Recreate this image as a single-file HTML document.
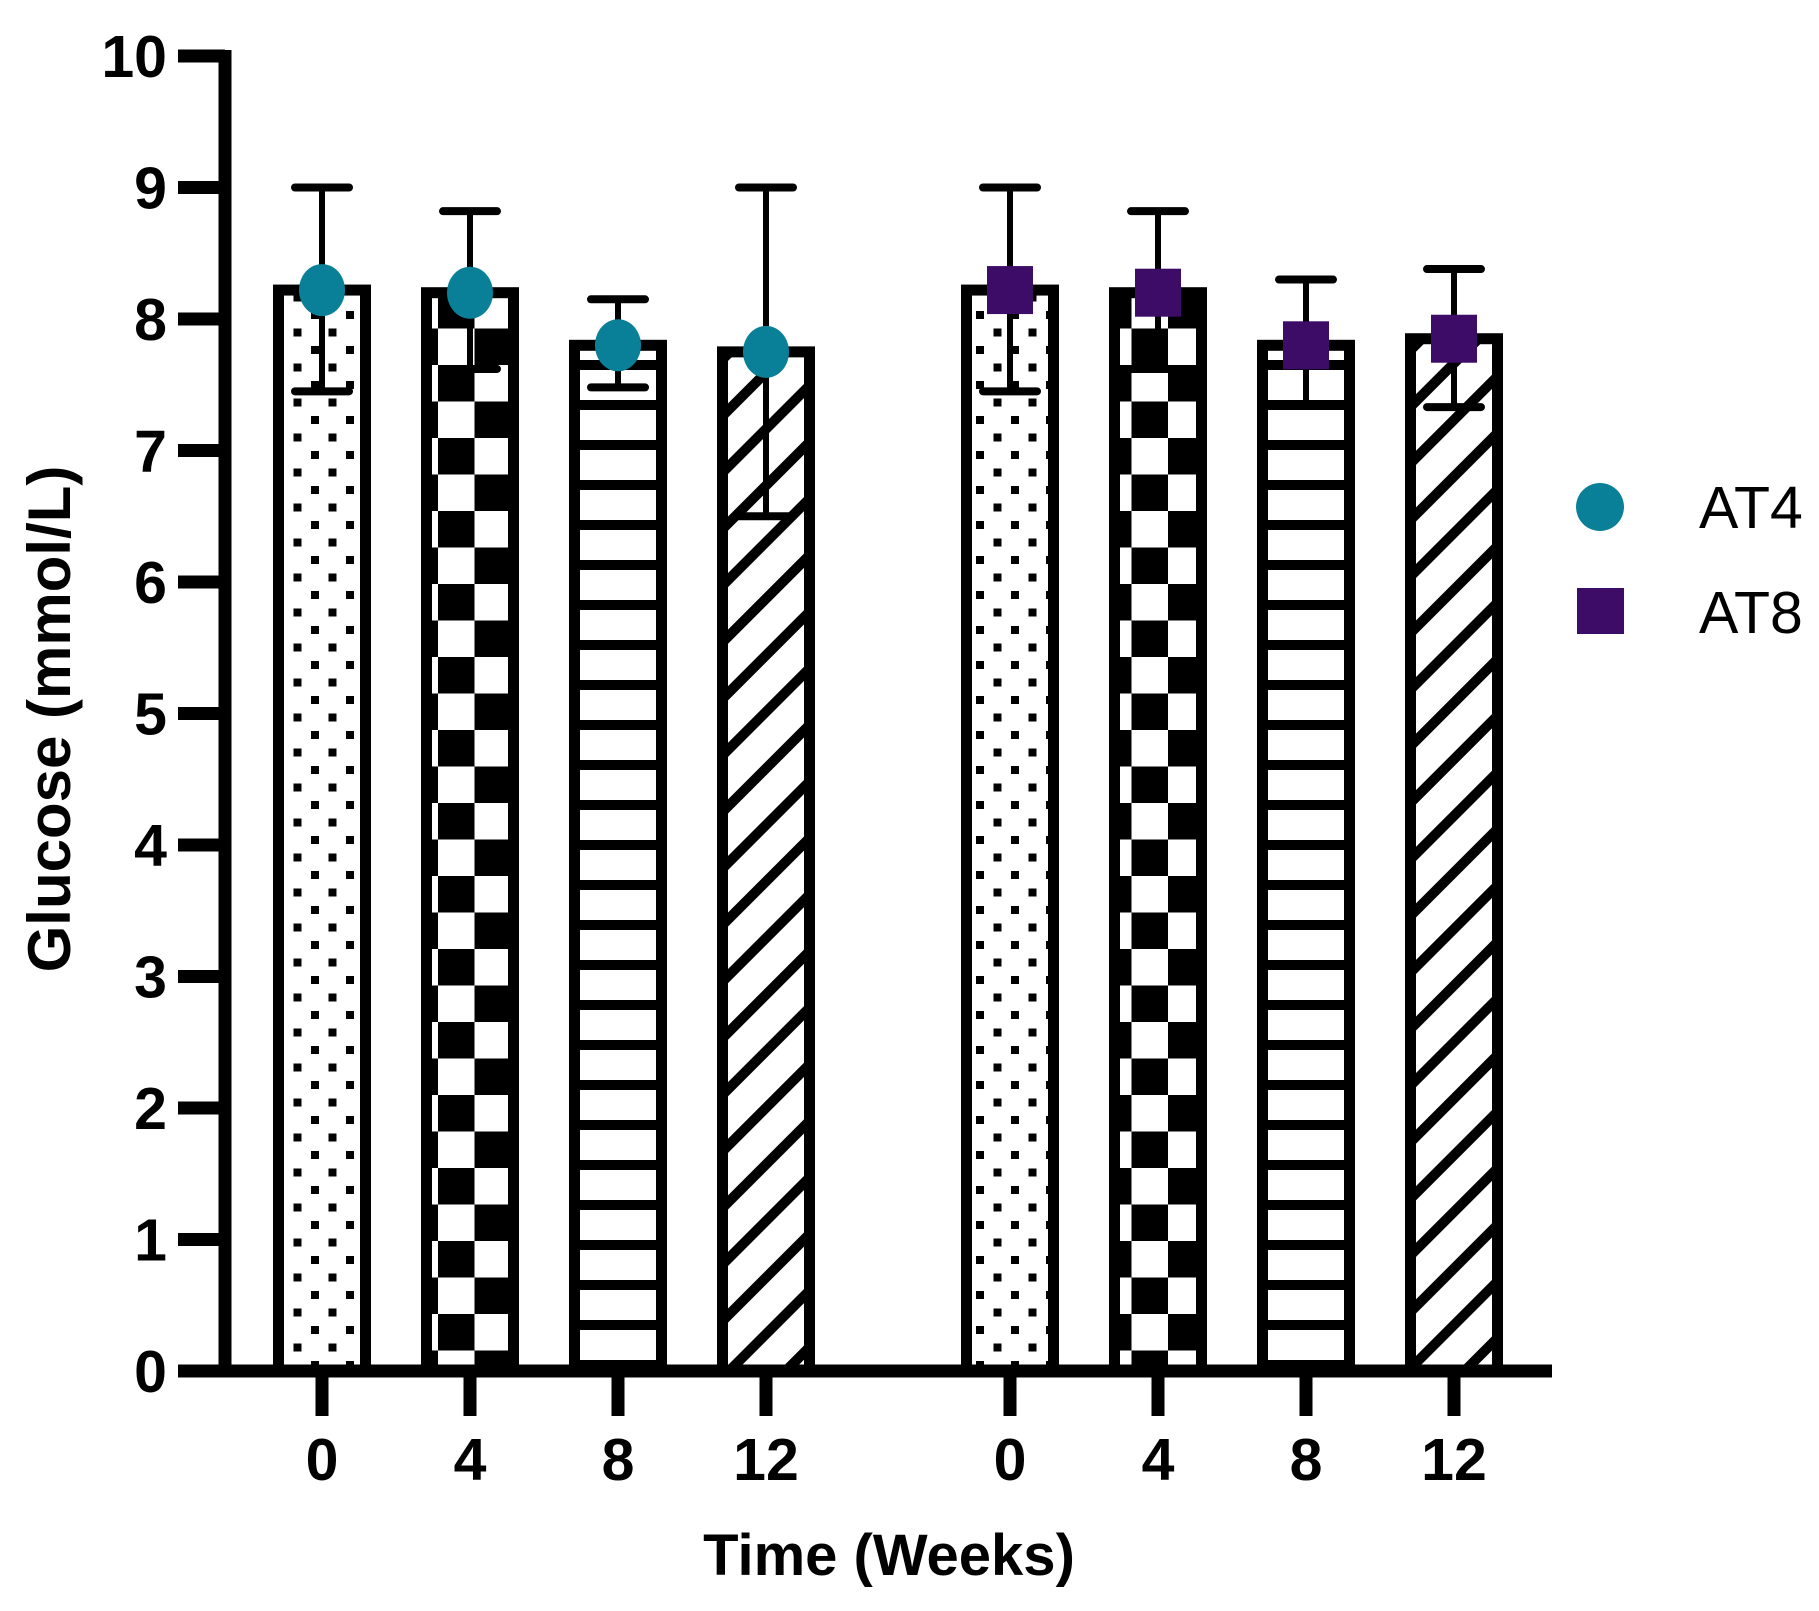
<!DOCTYPE html>
<html><head><meta charset="utf-8"><style>
html,body{margin:0;padding:0;background:#fff;}
svg{display:block;font-family:"Liberation Sans",Arial,sans-serif;}
</style></head><body>
<svg id="chart" width="1819" height="1611" viewBox="0 0 1819 1611">
<defs>
<pattern id="p-dots" patternUnits="userSpaceOnUse" width="35" height="35" x="0" y="0">
<rect width="35" height="35" fill="#fff"/><rect x="-4" y="-4" width="8" height="8" fill="#000"/><rect x="31" y="-4" width="8" height="8" fill="#000"/><rect x="-4" y="31" width="8" height="8" fill="#000"/><rect x="31" y="31" width="8" height="8" fill="#000"/><rect x="13.5" y="13.5" width="8" height="8" fill="#000"/>
</pattern>
<pattern id="p-check" patternUnits="userSpaceOnUse" width="73" height="73" x="0" y="0">
<rect width="73" height="73" fill="#fff"/><rect x="0" y="0" width="36.5" height="36.5" fill="#000"/><rect x="36.5" y="36.5" width="36.5" height="36.5" fill="#000"/>
</pattern>
<pattern id="p-hlines" patternUnits="userSpaceOnUse" width="40" height="40">
<rect width="40" height="40" fill="#fff"/><rect x="0" y="0" width="40" height="10" fill="#000"/>
</pattern>
<pattern id="p-diag" patternUnits="userSpaceOnUse" width="40" height="40" patternTransform="rotate(45)">
<rect width="40" height="40" fill="#fff"/><rect x="0" y="0" width="10" height="40" fill="#000"/>
</pattern>
</defs>
<g id="plot"></g>
<text x="0" y="0" transform="translate(70,719) rotate(-90)" text-anchor="middle" font-size="60" font-weight="bold">Glucose (mmol/L)</text>
<text x="889" y="1575" text-anchor="middle" font-size="58" font-weight="bold">Time (Weeks)</text>
<g>
<circle cx="1600" cy="507" r="24" fill="#0a7f98"/>
<text x="1699" y="528" font-size="59">AT4</text>
<rect x="1577" y="588" width="47" height="46" fill="#3d0c66"/>
<text x="1699" y="633" font-size="59">AT8</text>
</g>
</svg>
<script>
const groups = ["AT4", "AT8"];
const weeks = ["0", "4", "8", "12"];
const at4Means = [8.22, 8.2, 7.8, 7.75];
const at4Upper = [9.0, 8.82, 8.15, 9.0];
const at4Lower = [7.45, 7.62, 7.48, 6.5];
const at8Means = [8.22, 8.2, 7.8, 7.85];
const at8Upper = [9.0, 8.82, 8.3, 8.38];
const at8Lower = [7.45, 7.62, 7.35, 7.33];
const yTicks = [0, 1, 2, 3, 4, 5, 6, 7, 8, 9, 10];

const NS = "http://www.w3.org/2000/svg";
const g = document.getElementById("plot");
const y0 = 1371, yTop = 56, yMax = 10;
function yScale(v){ return y0 - (y0 - yTop) * v / yMax; }
function xScale(gi, wi){ return 322 + gi * 688 + wi * 148; }
function mk(tag, attrs, parent){ const e = document.createElementNS(NS, tag); for (const k in attrs) e.setAttribute(k, attrs[k]); (parent||g).appendChild(e); return e; }
const fills = ["url(#p-dots)", "url(#p-check)", "url(#p-hlines)", "url(#p-diag)"];
const colors = ["#0a7f98", "#3d0c66"];
const means = [at4Means, at8Means], ups = [at4Upper, at8Upper], lows = [at4Lower, at8Lower];

for (let gi = 0; gi < groups.length; gi++) {
  for (let wi = 0; wi < weeks.length; wi++) {
    const cx = xScale(gi, wi), v = means[gi][wi], bw = 87;
    const r = mk("rect", {x: cx - bw/2, y: yScale(v), width: bw, height: y0 - yScale(v), fill: fills[wi], stroke: "#000", "stroke-width": 11});
    
    
  }
}
for (let gi = 0; gi < groups.length; gi++) {
  for (let wi = 0; wi < weeks.length; wi++) {
    const cx = xScale(gi, wi);
    const eg = mk("g", {});
    
    
    mk("line", {x1: cx, x2: cx, y1: yScale(ups[gi][wi]), y2: yScale(lows[gi][wi]), stroke: "#000", "stroke-width": 6}, eg);
    mk("line", {x1: cx - 27, x2: cx + 27, y1: yScale(ups[gi][wi]), y2: yScale(ups[gi][wi]), stroke: "#000", "stroke-width": 8, "stroke-linecap": "round"}, eg);
    mk("line", {x1: cx - 27, x2: cx + 27, y1: yScale(lows[gi][wi]), y2: yScale(lows[gi][wi]), stroke: "#000", "stroke-width": 8, "stroke-linecap": "round"}, eg);
    const my = yScale(means[gi][wi]);
    let m;
    if (gi === 0) m = mk("ellipse", {cx: cx, cy: my, rx: 23, ry: 26, fill: colors[0]});
    else m = mk("rect", {x: cx - 23, y: my - 24, width: 46, height: 48, fill: colors[1]});
    
    
  }
}
const ya = mk("line", {x1: 225, x2: 225, y1: yTop - 6, y2: y0 + 6, stroke: "#000", "stroke-width": 13});


const xa = mk("line", {x1: 180, x2: 1552, y1: y0, y2: y0, stroke: "#000", "stroke-width": 13});


for (const t of yTicks) {
  const yy = yScale(t);
  const tl = mk("line", {x1: 178, x2: 225, y1: yy, y2: yy, stroke: "#000", "stroke-width": 13});
  
  
  const tx = mk("text", {x: 167, y: yy + 21, "text-anchor": "end", "font-size": 59, "font-weight": "bold"});
  tx.textContent = t;
  
  
}
for (let gi = 0; gi < groups.length; gi++) {
  for (let wi = 0; wi < weeks.length; wi++) {
    const cx = xScale(gi, wi);
    const tl = mk("line", {x1: cx, x2: cx, y1: y0, y2: 1416, stroke: "#000", "stroke-width": 13});
    
    
    const tx = mk("text", {x: cx, y: 1480, "text-anchor": "middle", "font-size": 59, "font-weight": "bold"});
    tx.textContent = weeks[wi];
    
    
  }
}
</script>
</body></html>
